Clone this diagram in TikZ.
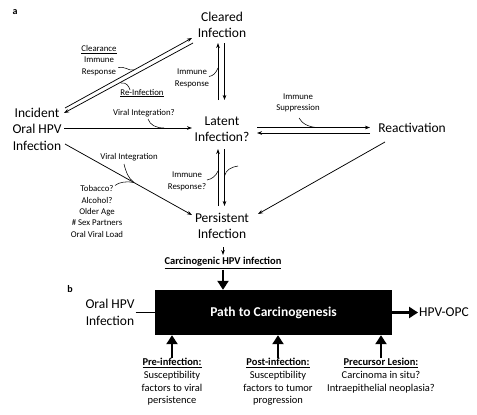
\documentclass[tikz,border=0pt]{standalone}
\usepackage{fontspec}
\setmainfont{Carlito}
\usetikzlibrary{arrows.meta}

\begin{document}
\begin{tikzpicture}[x=1pt,y=-1pt,
  state/.style={align=center,font=\fontsize{13.5}{16.5}\selectfont,inner sep=1pt},
  note/.style={align=center,font=\fontsize{8.8}{11.3}\selectfont,inner sep=0pt},
  factor/.style={align=center,anchor=north,font=\fontsize{10.5}{12.8}\selectfont,inner sep=0pt},
  arr/.style={-{Stealth[length=5pt,width=3.6pt]},line width=0.75pt},
  fatarr/.style={-{Triangle[length=9pt,width=11pt]},line width=2.8pt},
  lead/.style={line width=0.55pt}]
\useasboundingbox (0,0) rectangle (477,415);
% panel a
\node[font=\fontsize{10}{12}\selectfont\bfseries] (la) at (15,12) {a};
\node[state] (clr) at (222,25) {Cleared\\Infection};
\node[state] (lat) at (222,129) {Latent\\Infection?};
\node[state] (per) at (222,226) {Persistent\\Infection};
\node[state] (inc) at (37,129) {Incident\\Oral HPV\\Infection};
\node[state] (rea) at (412,128) {Reactivation};
\node[note] (clrlab) at (99,60.5) {\underline{Clearance}\\Immune\\Response};
\node[note] (reinf) at (142,93) {\underline{Re-Infection}};
\node[note] (imr1) at (192,78.5) {Immune\\Response};
\node[note] (vint1) at (144,113) {Viral Integration?};
\node[note] (sup) at (298,103) {Immune\\Suppression};
\node[note] (vint2) at (129,157) {Viral Integration};
\node[note] (risk) at (97,211.5) {Tobacco?\\Alcohol?\\Older Age\\\# Sex Partners\\Oral Viral Load};
\node[note] (imr2) at (187,181.5) {Immune\\Response?};
\node[font=\fontsize{10.5}{12}\selectfont\bfseries,inner sep=1pt] (carc) at (223,263) {\underline{Carcinogenic HPV infection}};

\draw[arr] ([shift={(28,-21)}]inc.center) -- ([shift={(-30,13)}]clr.center);
\draw[arr] ([shift={(-29,18)}]clr.center) -- ([shift={(27,-16)}]inc.center);
\draw[arr] ([shift={(-4,-29)}]lat.center) -- ([shift={(-4,18)}]clr.center);
\draw[arr] ([shift={(2.5,18)}]clr.center) -- ([shift={(2.5,-29)}]lat.center);
\draw[arr] ([shift={(-4,-20)}]per.center) -- ([shift={(-4,20)}]lat.center);
\draw[arr] ([shift={(2.5,20)}]lat.center) -- ([shift={(2.5,-20)}]per.center);
\draw[arr] ([shift={(27,-1)}]inc.center) -- ([shift={(-30,-1)}]lat.center);
\draw[arr] ([shift={(35,-1.5)}]lat.center) -- ([shift={(-42,-0.5)}]rea.center);
\draw[arr] ([shift={(-42,5)}]rea.center) -- ([shift={(35,4)}]lat.center);
\draw[arr] ([shift={(28,15)}]inc.center) -- ([shift={(-30,-11)}]per.center);
\draw[arr] ([shift={(-27,14)}]rea.center) -- ([shift={(36,-12)}]per.center);
\draw[arr] ([shift={(1,21)}]per.center) -- ([shift={(0,-8)}]carc.center);

% leaders
\coordinate (cl) at (134,70);
\coordinate (ri) at (121,83);
\coordinate (im) at (218,68);
\coordinate (vi) at (164,128);
\coordinate (su) at (318,127.5);
\coordinate (vp) at (134,182.5);
\coordinate (ir) at (218,171);
\coordinate (ir2) at (224.5,176);
\coordinate (ir3) at (238,166);
\draw[lead] ([shift={(1.5,7)}]clrlab.east) .. controls (125,66) and (128,71) .. (cl);
\draw[lead] (ri) .. controls (126,82) and (129,86) .. ([shift={(-12,-3)}]reinf.center);
\draw[lead] ([shift={(17,-2)}]imr1.center) .. controls (213,76) and (216,73) .. (im);
\draw[lead] ([shift={(4,6)}]vint1.center) .. controls (150,125) and (156,128) .. (vi);
\draw[lead] ([shift={(1,15)}]sup.center) .. controls (302,124) and (310,127.5) .. (su);
\draw[lead] ([shift={(-5,7)}]vint2.center) .. controls (126,172) and (128,178) .. (vp);
\draw[lead] ([shift={(18,-26)}]risk.center) .. controls (119,182) and (127,181) .. (vp);
\draw[lead] ([shift={(20,-1.5)}]imr2.center) .. controls (212,179) and (216,176) .. (ir);
\draw[lead] (ir2) .. controls (226,170) and (231,167) .. (ir3);

% panel b
\node[font=\fontsize{10}{12}\selectfont\bfseries] (lb) at (70,289) {b};
\node[fill=black,text=white,font=\fontsize{13.5}{16}\selectfont\bfseries,minimum width=237,minimum height=45,inner sep=0pt] (box) at (273.5,312.5) {Path to Carcinogenesis};
\node[state] (oral) at (110,312.5) {Oral HPV\\Infection};
\node[state] (opc) at (444,312.5) {HPV-OPC};
\node[factor] (pre) at (172,358) {\textbf{\underline{Pre-infection:}}\\Susceptibility\\factors to viral\\persistence};
\node[factor] (post) at (278,358) {\textbf{\underline{Post-infection:}}\\Susceptibility\\factors to tumor\\progression};
\node[factor] (prec) at (381,358) {\textbf{\underline{Precursor Lesion:}}\\Carcinoma in situ?\\Intraepithelial neoplasia?};

\draw[fatarr] (carc.south) -- (carc.south |- box.north);
\draw[line width=0.9pt] (oral.east) -- (box.west);
\draw[fatarr] (box.east) -- (opc.west);
\draw[fatarr] (pre.north) -- (pre.north |- box.south);
\draw[fatarr] (post.north) -- (post.north |- box.south);
\draw[fatarr] (prec.north) -- (prec.north |- box.south);
\end{tikzpicture}
\end{document}
